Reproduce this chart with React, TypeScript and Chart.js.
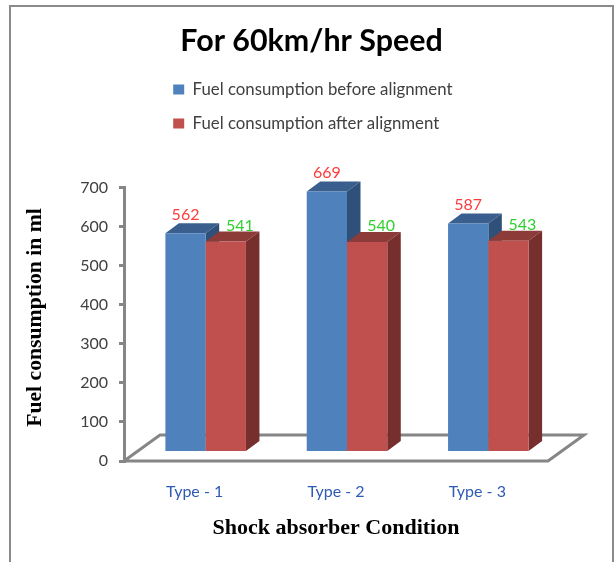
import React, { useEffect, useRef } from "react";
import { Chart, registerables } from "chart.js";

Chart.register(...registerables);

const categories = ["Type - 1", "Type - 2", "Type - 3"];
const beforeValues = [562, 669, 587];
const afterValues = [541, 540, 543];
const seriesNames = ["Fuel consumption before alignment", "Fuel consumption after alignment"];
const chartTitle = "For 60km/hr Speed";
const xTitle = "Shock absorber Condition";
const yTitle = "Fuel consumption in ml";

const AXIS = "#868686";
const BAR_SHIFT = { x: 11, y: -8.5 };
const BAR_DEPTH = { x: 13.5, y: -10 };
const FLOOR_DEPTH = { x: 36, y: -26 };

const faces = [
  { top: "#3A5F8E", side: "#2F5079", label: "#FF3B3B", dx: 0, dy: -18.5 },
  { top: "#8D3B38", side: "#772F2D", label: "#2FD02F", dx: 14, dy: -16 },
];

function drawFaces(chart: any, index: number) {
  const { ctx } = chart;
  const f = faces[index];
  const dx = BAR_DEPTH.x;
  const dy = BAR_DEPTH.y;
  chart.getDatasetMeta(index).data.forEach((bar: any) => {
    const { x, y, base, width } = bar.getProps(["x", "y", "base", "width"], true);
    const l = x - width / 2;
    const r = x + width / 2;
    ctx.fillStyle = f.top;
    ctx.beginPath();
    ctx.moveTo(l, y);
    ctx.lineTo(l + dx, y + dy);
    ctx.lineTo(r + dx, y + dy);
    ctx.lineTo(r, y);
    ctx.closePath();
    ctx.fill();
    ctx.fillStyle = f.side;
    ctx.beginPath();
    ctx.moveTo(r, y);
    ctx.lineTo(r + dx, y + dy);
    ctx.lineTo(r + dx, base + dy);
    ctx.lineTo(r, base);
    ctx.closePath();
    ctx.fill();
  });
}

const bars3d = {
  id: "bars3d",
  afterLayout(chart: any) {
    const lg = chart.legend;
    lg.left = 156;
    lg.right = 156 + lg.width;
    lg.top = 64;
    lg.bottom = 64 + lg.height;
    chart.titleBlock.left = 0;
    chart.titleBlock.right = 623;
    const y = chart.scales.y;
    if (!y.__shifted) {
      const orig = y.drawTitle.bind(y);
      y.drawTitle = () => {
        chart.ctx.save();
        chart.ctx.translate(0, -7);
        orig();
        chart.ctx.restore();
      };
      y.__shifted = true;
    }
  },
  beforeDatasetsDraw(chart: any) {
    const { ctx, chartArea: a } = chart;
    ctx.save();
    ctx.strokeStyle = AXIS;
    ctx.lineWidth = 3;
    ctx.lineJoin = "miter";
    ctx.beginPath();
    ctx.moveTo(a.left, a.bottom);
    ctx.lineTo(a.right, a.bottom);
    ctx.lineTo(a.right + FLOOR_DEPTH.x, a.bottom + FLOOR_DEPTH.y);
    ctx.lineTo(a.left + FLOOR_DEPTH.x, a.bottom + FLOOR_DEPTH.y);
    ctx.closePath();
    ctx.stroke();
    ctx.restore();
    ctx.save();
    ctx.translate(BAR_SHIFT.x, BAR_SHIFT.y);
  },
  // Chart.js paints the last dataset first; the "after" bars must sit on top of
  // the "before" bars' side faces, so they are painted after the first dataset.
  beforeDatasetDraw(chart: any, args: any) {
    if (args.index === 1) return false;
    drawFaces(chart, args.index);
  },
  afterDatasetDraw(chart: any, args: any) {
    if (args.index === 0) {
      drawFaces(chart, 1);
      chart.getDatasetMeta(1).controller.draw();
    }
  },
  afterDatasetsDraw(chart: any) {
    const { ctx } = chart;
    ctx.restore();
    ctx.save();
    ctx.font = "16px Lato";
    ctx.textAlign = "center";
    ctx.textBaseline = "middle";
    chart.data.datasets.forEach((ds: any, i: number) => {
      const f = faces[i];
      ctx.fillStyle = f.label;
      chart.getDatasetMeta(i).data.forEach((bar: any, j: number) => {
        const { x, y } = bar.getProps(["x", "y"], true);
        ctx.fillText(String(ds.data[j]), x + BAR_SHIFT.x + f.dx, y + BAR_SHIFT.y + f.dy);
      });
    });
    ctx.restore();
  },
};

export default function App() {
  const ref = useRef<HTMLCanvasElement | null>(null);
  useEffect(() => {
    const chart = new Chart(ref.current as HTMLCanvasElement, {
      type: "bar",
      plugins: [bars3d],
      data: {
        labels: categories,
        datasets: [
          { label: seriesNames[0], data: beforeValues, backgroundColor: "#4F81BD", clip: false },
          { label: seriesNames[1], data: afterValues, backgroundColor: "#C0504D", clip: false },
        ] as any,
      },
      options: {
        responsive: false,
        animation: false,
        layout: { padding: { left: 0, right: 66, top: 0, bottom: 0 } },
        datasets: { bar: { barPercentage: 1, categoryPercentage: 0.57 } },
        plugins: {
          tooltip: { enabled: false },
          title: {
            display: true,
            text: chartTitle,
            color: "#000000",
            font: { family: "Lato", size: 30.4, weight: "bold", lineHeight: 1.2 },
            padding: { top: 23, bottom: 128.5 },
          },
          legend: {
            position: "chartArea",
            align: "start",
            labels: {
              boxWidth: 11,
              boxHeight: 10,
              padding: 17.2,
              color: "#404040",
              font: { family: "Lato", size: 16.8 },
            },
          },
        },
        scales: {
          x: {
            grid: { display: false },
            border: { display: false },
            afterFit: (s: any) => { s.height = 101; },
            ticks: { color: "#2F5BB5", padding: 13, maxRotation: 0, font: { family: "Lato", size: 16 } },
            title: {
              display: true,
              text: xTitle,
              color: "#000000",
              font: { family: "Liberation Serif", size: 22, weight: "bold", lineHeight: 1.2 },
              padding: { top: 20.8, bottom: 20.8 },
            },
          },
          y: {
            min: 0,
            max: 700,
            afterFit: (s: any) => { s.width = 124; },
            grid: { drawOnChartArea: false, color: AXIS, lineWidth: 3, tickLength: 5 },
            border: { color: AXIS, width: 3 },
            ticks: { stepSize: 100, color: "#404040", padding: 11, font: { family: "Lato", size: 16 } },
            title: {
              display: true,
              text: yTitle,
              color: "#000000",
              font: { family: "Liberation Serif", size: 21.7, weight: "bold", lineHeight: 1.2 },
              padding: { top: 22, bottom: 22 },
            },
          },
        },
      } as any,
    });
    return () => chart.destroy();
  }, []);
  return (
    <div style={{ position: "absolute", left: 0, top: 0, width: 614, height: 562, overflow: "hidden" }}>
      <div
        style={{
          position: "absolute",
          left: 9,
          top: 5,
          width: 601,
          height: 560,
          borderLeft: "2px solid #8A8A8A",
          borderTop: "2px solid #8A8A8A",
          borderRight: "2px solid #8A8A8A",
        }}
      />
      <canvas ref={ref} width={614} height={562} style={{ position: "absolute", left: 0, top: 0, display: "block" }} />
    </div>
  );
}
